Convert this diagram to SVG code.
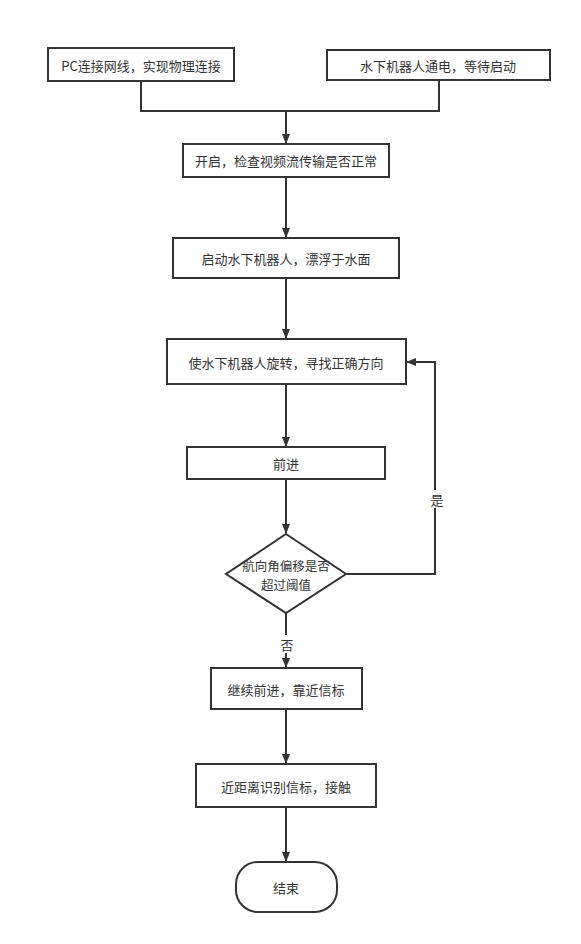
<svg xmlns="http://www.w3.org/2000/svg" width="581" height="944" viewBox="0 0 581 944">
<defs>
<marker id="arr" markerWidth="10" markerHeight="10" refX="9" refY="5" orient="auto" markerUnits="userSpaceOnUse">
<path d="M0,1 L10,5 L0,9 Z" fill="#333"/>
</marker>
<style>
.n{fill:#fff;stroke:#333;stroke-width:2}
.t{font-family:"Noto Sans CJK SC","Liberation Sans",sans-serif;font-size:13px;fill:#333;text-anchor:middle;dominant-baseline:central}
.d{font-size:12.5px}
.c{fill:none;stroke:#333;stroke-width:2}
</style>
</defs>
<rect width="581" height="944" fill="#fff"/>
<g id="connectors">
<polyline class="c" points="141,81 141,111 439,111 439,80"/>
<line class="c" x1="286" y1="111" x2="286" y2="143" marker-end="url(#arr)"/>
<line class="c" x1="286" y1="177" x2="286" y2="237" marker-end="url(#arr)"/>
<line class="c" x1="286" y1="278" x2="286" y2="338" marker-end="url(#arr)"/>
<line class="c" x1="286" y1="384" x2="286" y2="446" marker-end="url(#arr)"/>
<line class="c" x1="286" y1="479" x2="286" y2="533" marker-end="url(#arr)"/>
<polyline class="c" points="346,574 435,574 435,362 407,362" marker-end="url(#arr)"/>
<line class="c" x1="286" y1="613" x2="286" y2="667" marker-end="url(#arr)"/>
<line class="c" x1="286" y1="709" x2="286" y2="763" marker-end="url(#arr)"/>
<line class="c" x1="286" y1="807" x2="286" y2="861" marker-end="url(#arr)"/>
<rect x="428" y="490" width="16" height="18" fill="#fff"/>
<text class="t" x="437" y="499">是</text>
<rect x="278" y="635" width="16" height="18" fill="#fff"/>
<text class="t" x="287" y="644">否</text>
</g>
<g id="n1"><rect class="n" x="48" y="48" width="186" height="33"/><text class="t" x="141" y="65">PC连接网线，实现物理连接</text></g>
<g id="n2"><rect class="n" x="327" y="50" width="223" height="30"/><text class="t" x="438" y="65">水下机器人通电，等待启动</text></g>
<g id="n3"><rect class="n" x="183" y="144" width="206" height="33"/><text class="t" x="286" y="160">开启，检查视频流传输是否正常</text></g>
<g id="n4"><rect class="n" x="173" y="238" width="226" height="40"/><text class="t" x="286" y="258">启动水下机器人，漂浮于水面</text></g>
<g id="n5"><rect class="n" x="167" y="339" width="239" height="45"/><text class="t" x="286" y="362">使水下机器人旋转，寻找正确方向</text></g>
<g id="n6"><rect class="n" x="187" y="447" width="198" height="32"/><text class="t" x="286" y="463">前进</text></g>
<g id="n7"><polygon class="n" points="286,534 346,574 286,613 226,574"/><text class="t d" x="286" y="565">航向角偏移是否</text><text class="t d" x="286" y="584">超过阈值</text></g>
<g id="n8"><rect class="n" x="211" y="668" width="151" height="41"/><text class="t" x="286" y="689">继续前进，靠近信标</text></g>
<g id="n9"><rect class="n" x="196" y="764" width="180" height="43"/><text class="t" x="286" y="786">近距离识别信标，接触</text></g>
<g id="n10"><rect class="n" x="236" y="862" width="101" height="50" rx="22" ry="22"/><text class="t" x="286" y="887">结束</text></g>
</svg>
